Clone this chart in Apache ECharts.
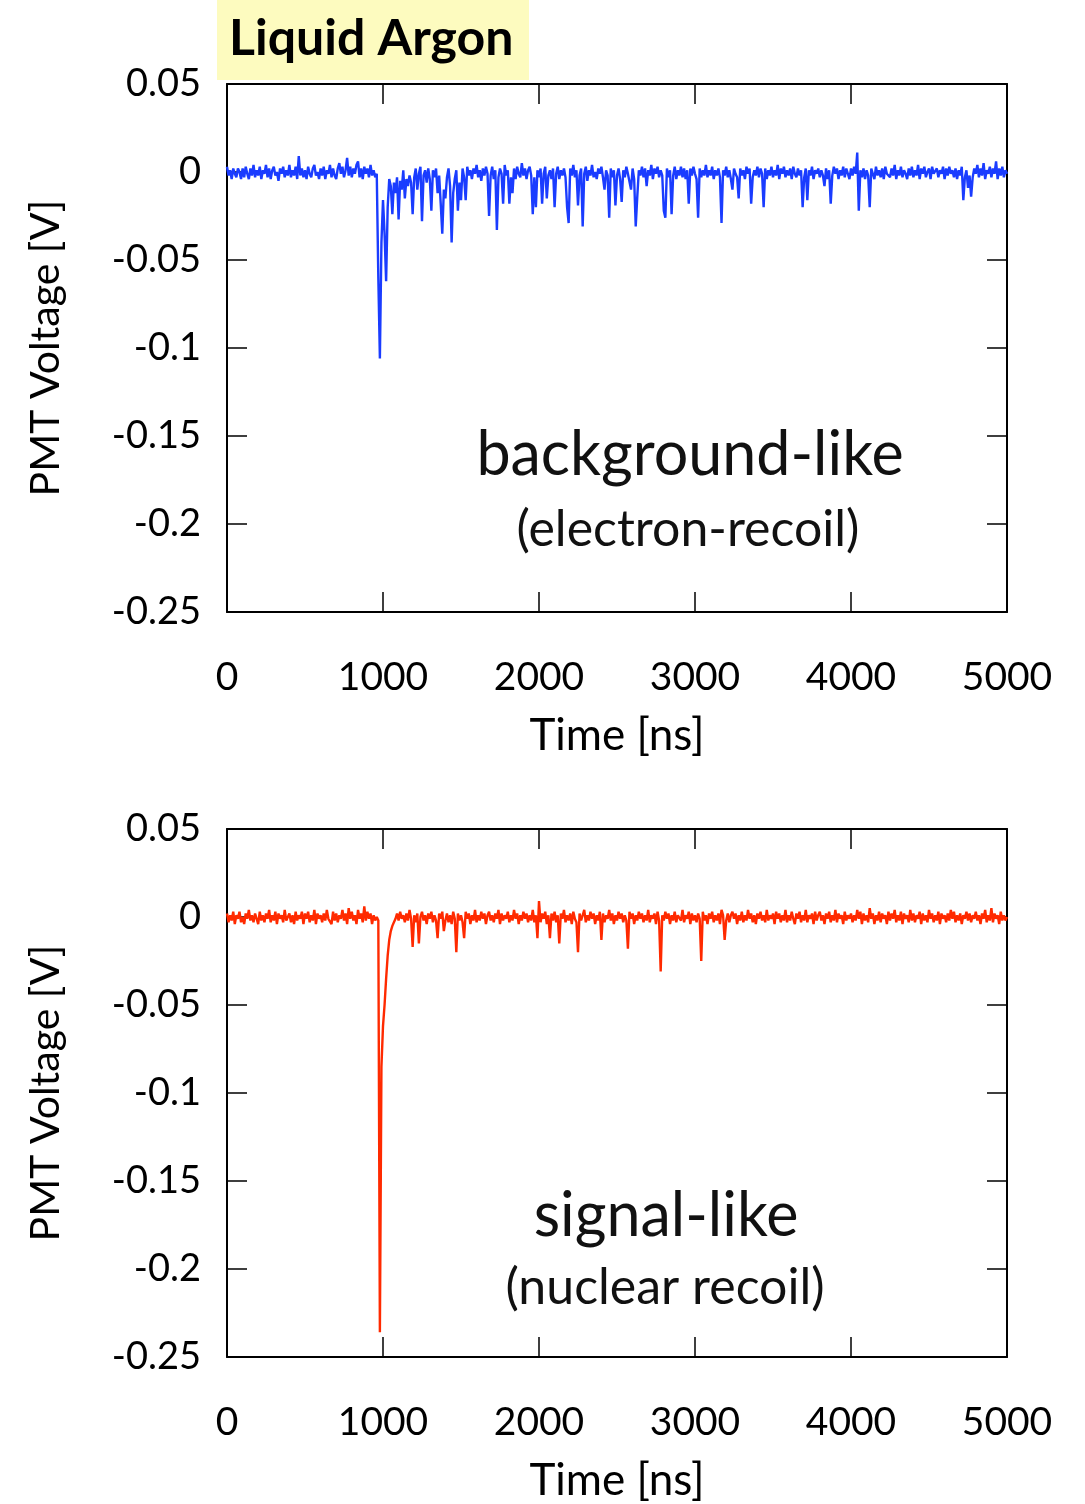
<!DOCTYPE html>
<html>
<head>
<meta charset="utf-8">
<script src="https://cdn.jsdelivr.net/npm/echarts@6/dist/echarts.min.js"></script>
<style>
html,body{margin:0;padding:0;background:#fff;}
#chart{width:1085px;height:1504px;}
</style>
</head>
<body>
<div id="chart"></div>
<script>
// sampling interval of the digitised waveforms (ns)
const sampleNs = 10;
const xTicks = [0, 1000, 2000, 3000, 4000, 5000];
const yTicks = [0.05, 0, -0.05, -0.1, -0.15, -0.2, -0.25];

// background-like (electron-recoil) PMT waveform, volts, one value per sample (each row = 100 ns)
const bgVolts = [
  0.003,-0.002,0.001,-0.004,0.002,-0.001,-0.003,0.002,0.000,-0.004,
  0.002,-0.003,0.003,-0.001,-0.004,0.002,-0.002,0.004,-0.003,0.001,
  -0.002,0.003,-0.004,0.001,-0.001,0.004,-0.003,0.002,-0.004,0.001,
  0.003,-0.002,0.000,-0.005,0.002,-0.001,0.003,-0.003,0.001,-0.002,
  0.004,-0.003,0.001,-0.002,0.003,-0.004,0.009,-0.002,0.002,-0.003,
  0.001,-0.004,0.003,-0.001,-0.003,0.002,0.004,-0.002,0.000,-0.004,
  0.002,-0.002,0.003,-0.004,0.001,-0.001,0.004,-0.003,0.002,-0.002,
  -0.004,0.002,0.005,-0.001,0.003,-0.003,0.001,0.008,-0.002,0.003,
  -0.003,0.002,-0.001,0.004,0.006,-0.003,0.002,-0.004,0.003,-0.001,
  0.002,-0.003,0.004,-0.002,0.001,-0.003,-0.001,-0.060,-0.106,-0.040,
  -0.016,-0.035,-0.062,-0.020,-0.004,-0.008,-0.024,-0.006,-0.012,-0.003,
  -0.027,-0.005,-0.010,0.001,-0.015,-0.004,-0.008,-0.002,-0.006,-0.024,
  -0.003,0.002,-0.010,-0.001,0.003,-0.028,-0.002,0.001,-0.006,0.002,
  -0.004,-0.022,0.001,-0.003,0.002,-0.012,-0.002,-0.018,-0.035,-0.010,
  -0.015,-0.003,0.002,-0.008,-0.040,-0.012,-0.004,0.001,-0.022,-0.006,
  -0.016,0.002,-0.003,-0.016,0.003,-0.002,0.001,-0.004,0.002,-0.001,
  0.004,-0.003,0.001,-0.005,0.002,-0.002,0.003,-0.001,-0.025,-0.002,
  0.003,-0.004,0.001,-0.033,-0.003,0.002,-0.001,-0.018,0.004,-0.002,
  0.001,-0.018,-0.003,-0.012,0.002,-0.004,0.003,-0.001,-0.003,0.005,
  -0.002,0.002,-0.004,0.001,0.003,-0.002,-0.024,-0.003,-0.020,0.001,
  -0.003,0.002,-0.018,-0.001,0.003,-0.015,-0.002,0.001,-0.004,0.002,
  -0.020,-0.001,0.003,-0.004,0.001,-0.002,0.002,-0.003,-0.020,-0.029,
  0.002,-0.002,0.004,-0.003,0.001,-0.019,-0.002,0.002,-0.031,-0.001,
  0.003,-0.005,0.001,-0.002,0.004,-0.003,0.000,-0.004,0.002,-0.001,
  0.003,-0.003,-0.010,0.001,-0.002,-0.026,0.002,-0.003,0.001,-0.019,
  -0.002,0.002,-0.004,-0.017,0.001,-0.003,0.003,-0.001,-0.002,-0.010,
  0.002,-0.004,-0.031,-0.014,0.001,-0.002,0.003,-0.003,0.002,-0.008,
  0.001,-0.002,0.004,-0.004,0.002,-0.001,0.003,-0.003,0.001,-0.002,
  -0.022,-0.026,0.002,-0.003,0.001,-0.024,-0.002,0.003,-0.004,0.001,
  -0.002,0.003,-0.003,0.002,-0.004,0.001,-0.018,0.002,-0.002,0.003,
  -0.001,-0.004,-0.026,0.002,-0.003,0.001,-0.002,0.004,-0.003,0.001,
  -0.002,0.003,-0.004,0.001,-0.002,0.002,-0.003,-0.029,0.001,-0.002,
  0.003,-0.003,0.001,-0.004,-0.010,0.002,-0.001,-0.003,-0.015,0.002,
  -0.002,0.001,-0.004,0.003,-0.001,0.002,-0.018,-0.003,0.001,-0.002,
  0.003,-0.003,0.002,-0.001,-0.020,0.002,-0.004,0.001,-0.002,0.003,
  -0.003,0.001,-0.002,0.004,-0.004,0.002,-0.001,0.003,-0.003,0.001,
  -0.002,0.002,-0.004,0.003,-0.001,-0.003,0.002,-0.002,0.001,-0.020,
  -0.003,0.002,-0.016,0.001,-0.002,0.003,-0.004,0.001,-0.001,0.002,
  -0.003,0.001,-0.002,-0.008,0.002,-0.004,0.001,-0.018,-0.002,0.003,
  -0.001,0.002,-0.004,0.001,-0.002,0.003,-0.003,0.002,-0.001,-0.004,
  0.002,-0.002,0.003,-0.001,0.011,-0.022,0.001,-0.003,0.002,-0.004,
  0.001,-0.002,-0.020,0.002,-0.001,-0.004,0.003,-0.002,0.001,-0.003,
  0.002,-0.004,0.003,-0.001,0.000,-0.003,0.002,-0.002,0.004,-0.004,
  0.001,-0.002,0.003,-0.003,0.001,-0.001,-0.004,0.002,-0.002,0.003,
  -0.003,0.001,-0.002,0.004,-0.004,0.002,-0.001,0.003,-0.003,0.000,
  0.002,-0.004,0.003,-0.001,-0.002,0.002,-0.003,0.001,-0.001,0.003,
  -0.004,0.002,-0.002,0.003,-0.001,0.001,-0.003,0.002,-0.004,0.001,
  -0.002,0.003,-0.016,-0.003,0.001,-0.009,-0.002,-0.014,-0.003,0.002,
  -0.001,0.004,-0.003,0.002,-0.002,0.005,-0.004,0.001,-0.001,0.003,
  -0.003,0.002,-0.001,0.006,-0.004,0.002,-0.002,0.003,-0.003,0.001,
  -0.001
];

// signal-like (nuclear recoil) PMT waveform, volts, one value per sample (each row = 100 ns)
const sigVolts = [
  0.002,-0.003,0.001,-0.002,0.003,-0.004,0.001,-0.001,0.003,-0.003,
  0.000,-0.004,0.002,-0.001,0.004,-0.002,0.001,-0.003,0.002,-0.001,
  -0.004,0.003,-0.002,0.001,-0.003,0.002,-0.001,0.004,-0.003,0.001,
  -0.002,0.003,-0.004,0.002,-0.001,0.001,-0.003,0.004,-0.002,0.000,
  0.002,-0.003,0.001,-0.004,0.003,-0.002,0.001,-0.001,0.003,-0.004,
  0.002,-0.001,0.003,-0.003,0.001,-0.002,0.004,-0.004,0.002,-0.001,
  0.001,-0.003,0.002,-0.002,0.004,-0.001,0.000,-0.004,0.003,-0.002,
  0.002,-0.003,0.001,-0.001,0.004,-0.002,0.002,-0.004,0.005,-0.001,
  0.003,-0.002,0.001,-0.004,0.004,-0.001,0.002,-0.003,0.006,-0.002,
  0.003,-0.001,0.002,-0.004,0.001,-0.002,0.000,-0.002,-0.236,-0.085,
  -0.062,-0.050,-0.035,-0.022,-0.013,-0.008,-0.005,-0.003,-0.001,0.002,
  -0.002,0.003,-0.001,0.001,-0.003,0.002,-0.002,0.004,-0.001,-0.017,
  0.001,-0.003,0.002,-0.015,0.000,0.003,-0.002,0.001,-0.004,0.002,
  -0.001,0.003,-0.003,0.001,-0.002,-0.012,0.002,-0.001,0.003,-0.008,
  -0.002,0.002,-0.003,0.001,-0.004,0.003,-0.001,-0.020,0.002,-0.002,
  0.001,-0.003,-0.012,0.003,-0.001,0.002,-0.004,0.001,-0.002,0.004,
  -0.003,0.001,-0.002,0.003,-0.001,0.002,-0.004,0.001,0.003,-0.002,
  0.001,-0.003,0.002,-0.001,0.004,-0.004,0.002,-0.002,0.001,-0.001,
  0.003,-0.003,0.001,-0.002,0.004,-0.001,0.002,-0.004,0.001,-0.002,
  0.003,-0.001,0.002,-0.003,0.001,-0.002,0.004,-0.003,0.001,-0.012,
  0.009,-0.003,0.002,-0.001,0.003,-0.004,0.001,-0.012,0.002,-0.002,
  0.003,-0.003,0.001,-0.015,0.002,-0.001,0.004,-0.003,0.001,-0.002,
  0.002,-0.004,0.003,-0.001,-0.003,-0.020,0.002,-0.002,0.001,0.004,
  -0.003,0.001,-0.002,0.003,-0.001,0.002,-0.004,0.001,-0.002,0.003,
  -0.013,0.002,-0.003,0.001,-0.001,0.004,-0.002,0.002,-0.004,0.001,
  -0.002,0.003,-0.001,0.002,-0.003,0.001,-0.002,-0.018,0.003,-0.001,
  0.002,-0.004,0.001,-0.002,0.003,-0.001,0.002,-0.003,0.001,-0.002,
  0.004,-0.003,0.001,-0.001,0.002,-0.004,0.003,-0.002,-0.031,0.001,
  -0.002,0.003,-0.001,0.002,-0.004,0.001,-0.002,0.003,-0.003,0.001,
  0.002,-0.002,0.004,-0.003,0.001,-0.001,0.003,-0.004,0.002,-0.002,
  0.001,-0.003,0.002,-0.001,-0.025,0.003,-0.002,0.001,-0.004,0.002,
  -0.001,0.003,-0.003,0.001,-0.002,0.002,-0.004,0.004,0.001,-0.013,
  -0.002,0.002,-0.003,0.001,0.003,-0.001,0.002,-0.004,0.001,-0.002,
  0.003,-0.003,0.001,-0.002,0.004,-0.001,0.002,-0.003,0.001,-0.004,
  0.002,-0.001,0.003,-0.002,0.001,-0.003,0.004,-0.002,0.001,-0.001,
  0.002,-0.004,0.003,-0.001,0.002,-0.003,0.001,-0.002,0.004,-0.003,
  0.001,-0.002,0.003,-0.001,-0.004,0.002,-0.001,0.003,-0.003,0.001,
  -0.002,0.004,-0.003,0.001,-0.001,0.002,-0.004,0.003,-0.002,0.001,
  0.003,-0.002,0.001,-0.004,0.002,-0.001,0.003,-0.003,0.001,-0.002,
  0.004,-0.003,0.002,-0.001,0.001,-0.004,0.003,-0.002,0.001,-0.001,
  0.002,-0.003,0.001,-0.002,0.004,-0.001,0.003,-0.004,0.002,-0.002,
  0.001,-0.003,0.005,-0.001,0.002,-0.004,0.001,-0.002,0.003,-0.003,
  0.002,-0.001,0.001,-0.004,0.003,-0.002,0.002,-0.001,0.004,-0.003,
  0.001,-0.002,0.003,-0.004,0.002,-0.001,0.001,-0.003,0.004,-0.002,
  0.002,-0.003,0.001,-0.001,0.003,-0.004,0.002,-0.002,0.001,-0.003,
  0.004,-0.001,0.002,-0.003,0.001,-0.002,0.003,-0.004,0.002,-0.001,
  0.001,-0.003,0.002,-0.002,0.004,-0.001,0.003,-0.003,0.001,-0.002,
  0.002,-0.004,0.001,-0.001,0.003,-0.002,0.002,-0.003,0.001,-0.001,
  0.003,-0.002,0.001,-0.004,0.002,-0.001,0.004,-0.003,0.001,-0.002,
  0.005,-0.003,0.002,-0.001,0.001,-0.004,0.003,-0.002,0.001,-0.002,
  0.000
];

const FONT = 'Lato';
const chart = echarts.init(document.getElementById('chart'), null, {renderer: 'canvas'});

const grids = [
  {left: 227, top: 84, width: 780, height: 528},
  {left: 227, top: 829, width: 780, height: 528}
];

function xAxes(gi) {
  return [
    {
      type: 'value', gridIndex: gi, position: 'bottom', min: 0, max: 5000, interval: 1000,
      name: 'Time [ns]', nameLocation: 'middle', nameGap: 102,
      nameTextStyle: {fontFamily: FONT, fontSize: 44, color: '#000'},
      axisLine: {show: true, onZero: false, lineStyle: {color: '#000', width: 2}},
      axisTick: {show: true, inside: true, length: 20, lineStyle: {color: '#000', width: 1.5}},
      axisLabel: {fontFamily: FONT, fontSize: 39, color: '#000', margin: 46,
        formatter: v => String(v)},
      splitLine: {show: false}
    },
    {
      type: 'value', gridIndex: gi, position: 'top', min: 0, max: 5000, interval: 1000,
      axisLine: {show: true, onZero: false, lineStyle: {color: '#000', width: 2}},
      axisTick: {show: true, inside: true, length: 20, lineStyle: {color: '#000', width: 1.5}},
      axisLabel: {show: false}, splitLine: {show: false}
    }
  ];
}
function yAxes(gi) {
  return [
    {
      type: 'value', gridIndex: gi, position: 'left', min: -0.25, max: 0.05, interval: 0.05,
      name: 'PMT Voltage [V]', nameLocation: 'middle', nameGap: 161, nameRotate: 90,
      nameTextStyle: {fontFamily: FONT, fontSize: 41, color: '#000'},
      axisLine: {show: true, onZero: false, lineStyle: {color: '#000', width: 2}},
      axisTick: {show: true, inside: true, length: 20, lineStyle: {color: '#000', width: 1.5}},
      axisLabel: {fontFamily: FONT, fontSize: 38, color: '#000', margin: 26,
        formatter: v => String(+v.toFixed(2))},
      splitLine: {show: false}
    },
    {
      type: 'value', gridIndex: gi, position: 'right', min: -0.25, max: 0.05, interval: 0.05,
      axisLine: {show: true, onZero: false, lineStyle: {color: '#000', width: 2}},
      axisTick: {show: true, inside: true, length: 20, lineStyle: {color: '#000', width: 1.5}},
      axisLabel: {show: false}, splitLine: {show: false}
    }
  ];
}

const option = {
  animation: false,
  backgroundColor: '#fff',
  grid: grids,
  xAxis: [...xAxes(0), ...xAxes(1)],
  yAxis: [...yAxes(0), ...yAxes(1)],
  series: [
    {
      type: 'line', xAxisIndex: 0, yAxisIndex: 0, showSymbol: false, symbol: 'none', sampling: false,
      data: bgVolts.map((v, i) => [i * sampleNs, v]),
      lineStyle: {color: '#1a3cff', width: 2.4, join: 'miter', miterLimit: 2}, z: 1
    },
    {
      type: 'line', xAxisIndex: 2, yAxisIndex: 2, showSymbol: false, symbol: 'none', sampling: false,
      data: sigVolts.map((v, i) => [i * sampleNs, v]),
      lineStyle: {color: '#ff2a00', width: 2.4, join: 'miter', miterLimit: 2}, z: 1
    }
  ],
  graphic: [
    {type: 'rect', left: 217, top: 0, shape: {width: 312, height: 80}, style: {fill: '#fdfbbf'}, z: 10},
    {type: 'text', x: 229, y: 39, style: {text: 'Liquid Argon', fontFamily: FONT, fontWeight: 'bold', fontSize: 50, fill: '#000', verticalAlign: 'middle'}, z: 11},
    {type: 'text', x: 690, y: 455, style: {text: 'background-like', fontFamily: FONT, fontWeight: 'normal', fontSize: 61, fill: '#111', align: 'center', verticalAlign: 'middle'}, z: 11},
    {type: 'text', x: 688, y: 530, style: {text: '(electron-recoil)', fontFamily: FONT, fontWeight: 'normal', fontSize: 50, fill: '#111', align: 'center', verticalAlign: 'middle'}, z: 11},
    {type: 'text', x: 666, y: 1216, style: {text: 'signal-like', fontFamily: FONT, fontWeight: 'normal', fontSize: 61, fill: '#111', align: 'center', verticalAlign: 'middle'}, z: 11},
    {type: 'text', x: 665, y: 1288, style: {text: '(nuclear recoil)', fontFamily: FONT, fontWeight: 'normal', fontSize: 50, fill: '#111', align: 'center', verticalAlign: 'middle'}, z: 11}
  ]
};
chart.setOption(option);
</script>
</body>
</html>
